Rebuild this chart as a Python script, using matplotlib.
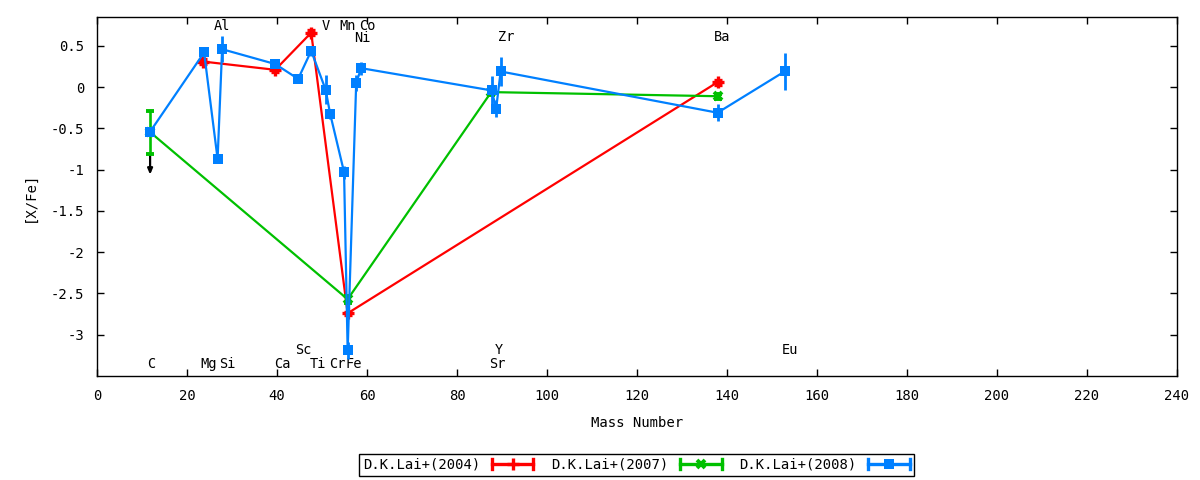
import matplotlib
matplotlib.use("Agg")
import matplotlib.pyplot as plt
from matplotlib.lines import Line2D
from matplotlib.legend_handler import HandlerBase

# ---------------- data ----------------
mass_2004 = [23.6, 39.6, 47.6, 55.7, 137.9]
xfe_2004 = [0.31, 0.21, 0.66, -2.74, 0.06]
err_2004 = [0.03, 0.03, 0.03, 0.02, 0.03]

mass_2007 = [11.8, 55.7, 87.6, 137.9]
xfe_2007 = [-0.545, -2.57, -0.06, -0.11]
err_2007 = [0.26, 0.04, 0.03, 0.03]

mass_2008 = [11.8, 23.8, 26.8, 27.8, 39.6, 44.7, 47.6, 50.8, 51.8, 54.9,
             55.7, 57.6, 58.7, 87.7, 88.7, 89.7, 137.9, 152.8]
xfe_2008 = [-0.54, 0.42, -0.87, 0.46, 0.28, 0.10, 0.44, -0.03, -0.32, -1.03,
            -3.19, 0.05, 0.23, -0.04, -0.26, 0.19, -0.31, 0.19]
err_2008 = [0.02, 0.03, 0.04, 0.16, 0.04, 0.05, 0.06, 0.18, 0.06, 0.08,
            0.10, 0.10, 0.08, 0.17, 0.10, 0.18, 0.10, 0.22]

# upper-limit arrow (C, 2007)
limit_x = 11.8
limit_from = -0.81
limit_to = -1.06

label_names = ["Al", "V", "Mn", "Co", "Ni", "Zr", "Ba",
               "C", "Mg", "Si", "Ca", "Ti", "Cr", "Fe", "Sr",
               "Sc", "Y", "Eu"]
label_x = [27.8, 50.9, 55.8, 60.0, 58.9, 90.9, 138.9,
           12.0, 24.8, 29.0, 41.1, 49.0, 53.5, 57.0, 88.9,
           45.8, 89.3, 154.0]
label_y = [0.745, 0.745, 0.745, 0.745, 0.59, 0.61, 0.61,
           -3.35, -3.35, -3.35, -3.35, -3.35, -3.35, -3.35, -3.35,
           -3.18, -3.18, -3.18]

series_names = ["D.K.Lai+(2004)", "D.K.Lai+(2007)", "D.K.Lai+(2008)"]
x_ticks = list(range(0, 241, 20))
y_ticks = [-3, -2.5, -2, -1.5, -1, -0.5, 0, 0.5]

# ---------------- style ----------------
RED, GREEN, BLUE = "#ff0000", "#00c000", "#0080ff"
FONT = "DejaVu Sans Mono"
FS = 9.5
plt.rcParams["font.family"] = FONT
plt.rcParams["font.size"] = FS

fig = plt.figure(figsize=(12, 4.8), dpi=100)
ax = fig.add_axes([97 / 1200, 1 - 376 / 480, (1177 - 97) / 1200, (376 - 17) / 480])

LW = 1.6
ax.errorbar(mass_2004, xfe_2004, yerr=err_2004, color=RED, lw=LW, elinewidth=LW + 0.3,
            capsize=3, capthick=LW + 0.3, marker="+", ms=8, mew=2.4, zorder=3)
ax.errorbar(mass_2007, xfe_2007, yerr=err_2007, color=GREEN, lw=LW, elinewidth=LW + 0.3,
            capsize=3, capthick=LW + 0.3, marker="x", ms=6, mew=2.8, zorder=4)
ax.errorbar(mass_2008, xfe_2008, yerr=err_2008, color=BLUE, lw=LW, elinewidth=LW + 0.4,
            capsize=3, capthick=LW + 0.4, marker="s", ms=7, mew=0, zorder=5)

ax.annotate("", xy=(limit_x, limit_to), xytext=(limit_x, limit_from),
            arrowprops=dict(arrowstyle="-|>,head_length=0.35,head_width=0.15",
                            color="black", lw=1.6, shrinkA=0, shrinkB=0), zorder=2)

for name, lx, ly in zip(label_names, label_x, label_y):
    ax.text(lx, ly, name, ha="center", va="center", fontsize=FS + 0.3, color="black")

ax.set_xlim(0, 240)
ax.set_ylim(-3.5, 0.85)
ax.set_xticks(x_ticks)
ax.set_xticklabels([str(t) for t in x_ticks])
ax.set_yticks(y_ticks)
ax.set_yticklabels(["-3", "-2.5", "-2", "-1.5", "-1", "-0.5", "0", "0.5"])
ax.tick_params(direction="in", length=5, width=1, top=True, right=True,
               labelsize=FS + 0.5, pad=9)
for s in ax.spines.values():
    s.set_linewidth(1)

ax.set_xlabel("Mass Number", fontsize=FS + 0.5, labelpad=10)
ax.set_ylabel("[X/Fe]", fontsize=FS + 0.5, labelpad=10)


class HandlerCapLine(HandlerBase):
    def create_artists(self, legend, orig_handle, xdescent, ydescent, width,
                       height, fontsize, trans):
        c = orig_handle.get_color()
        y = height / 2 - ydescent
        x0, x1 = -xdescent, width - xdescent
        cap = 3.5
        arts = [
            Line2D([x0, x1], [y, y], color=c, lw=2.4),
            Line2D([x0, x0], [y - cap, y + cap], color=c, lw=2.4),
            Line2D([x1, x1], [y - cap, y + cap], color=c, lw=2.4),
            Line2D([(x0 + x1) / 2], [y], color=c, marker=orig_handle.get_marker(),
                   ms=orig_handle.get_markersize(), mew=orig_handle.get_markeredgewidth(),
                   lw=0),
        ]
        for a in arts:
            a.set_transform(trans)
        return arts


proxies = [
    Line2D([], [], color=RED, marker="+", ms=8, mew=2.4),
    Line2D([], [], color=GREEN, marker="x", ms=6, mew=2.8),
    Line2D([], [], color=BLUE, marker="s", ms=7, mew=0),
]
leg = fig.legend(proxies, series_names, loc="center", ncol=3,
                 bbox_to_anchor=(636.5 / 1200, 1 - 465 / 480),
                 handler_map={Line2D: HandlerCapLine()}, markerfirst=False,
                 handlelength=3.0, handletextpad=0.8, columnspacing=1.3,
                 frameon=True, fancybox=False, edgecolor="black", framealpha=1,
                 borderpad=0.3, fontsize=FS + 0.5)
leg.get_frame().set_linewidth(1)

fig.savefig("out.png", dpi=100)
